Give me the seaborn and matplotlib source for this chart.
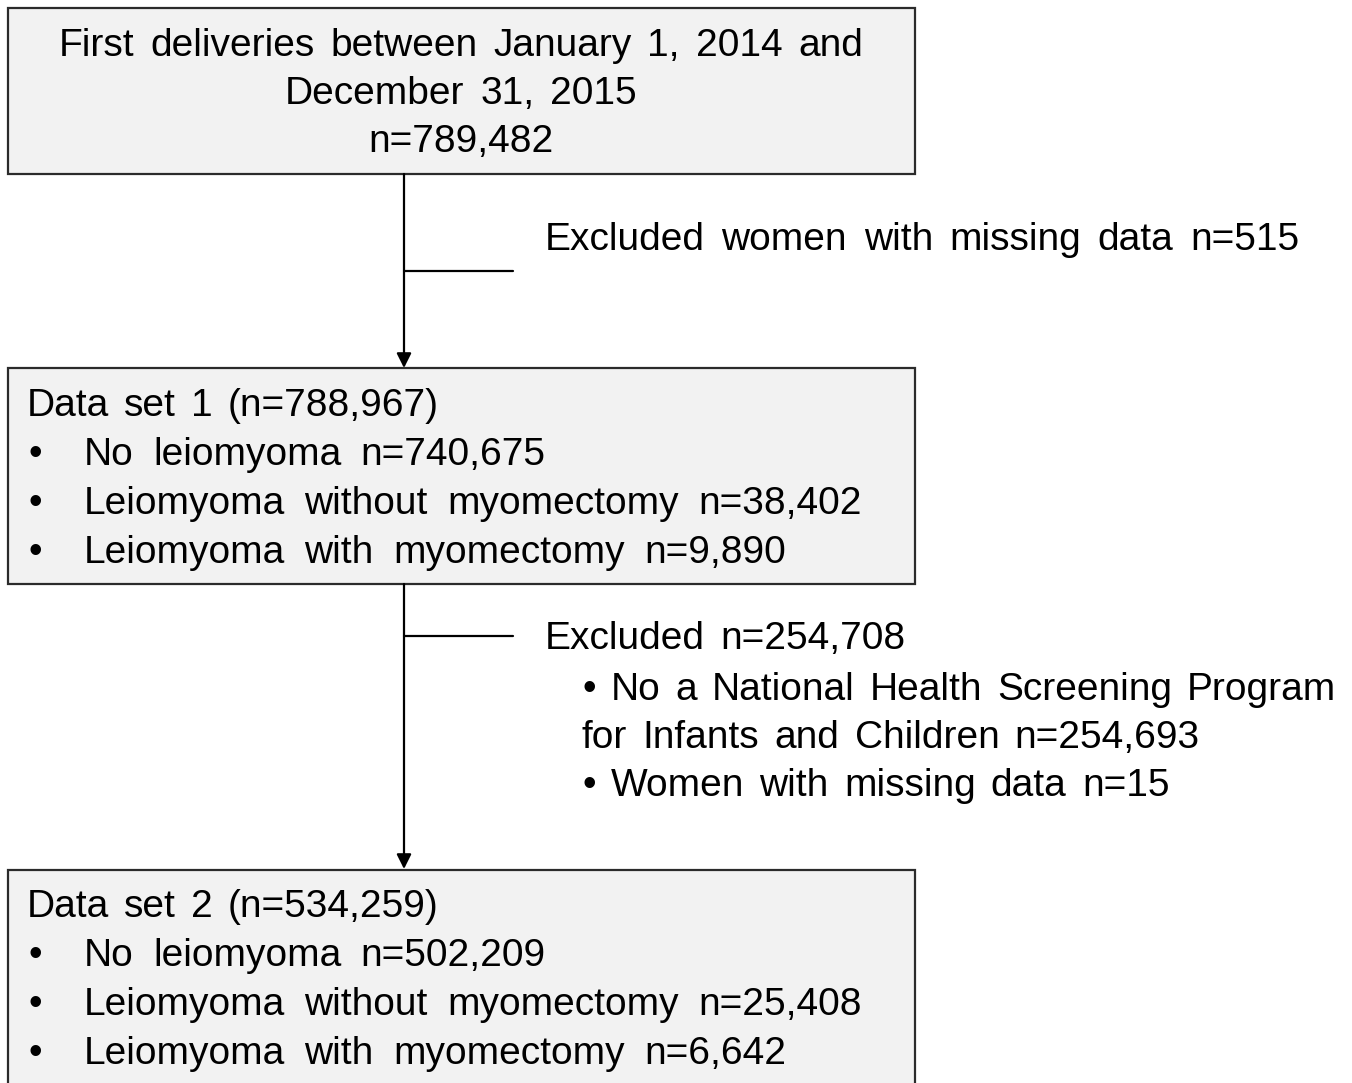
import matplotlib
matplotlib.use("Agg")
import matplotlib.pyplot as plt
from matplotlib.patches import Rectangle
import seaborn as sns

# ---- data ----
total_n = "789,482"
excluded_missing_n = "515"
set1_total = "788,967"
set1_labels = ["No leiomyoma", "Leiomyoma without myomectomy", "Leiomyoma with myomectomy"]
set1_counts = ["740,675", "38,402", "9,890"]
excluded2_total = "254,708"
excluded2_reasons = ["No a National Health Screening Program", "for Infants and Children n=254,693",
                     "Women with missing data n=15"]
set2_total = "534,259"
set2_labels = ["No leiomyoma", "Leiomyoma without myomectomy", "Leiomyoma with myomectomy"]
set2_counts = ["502,209", "25,408", "6,642"]

sns.set_theme(style="white")
plt.rcParams['font.family'] = ['Liberation Sans', 'DejaVu Sans']
plt.rcParams['text.color'] = 'black'

W, H = 1352, 1083
fig = plt.figure(figsize=(W / 100, H / 100), dpi=100)
ax = fig.add_axes([0, 0, 1, 1])
ax.set_xlim(0, W)
ax.set_ylim(H, 0)
ax.axis("off")
fig.canvas.draw()
renderer = fig.canvas.get_renderer()

FS = 28
fill = "#f2f2f2"
edge = "#2b2b2b"
lw = 1.6
DY = 3

def width_px(s):
    t = ax.text(0, 0, s, fontsize=FS)
    w = t.get_window_extent(renderer).width
    t.remove()
    return w

SPACE = width_px("a a") - width_px("aa")

def words(x, y, s, ha="left", extra=5.0):
    ws = s.split(" ")
    widths = [width_px(w) for w in ws]
    total = sum(widths) + (SPACE + extra) * (len(ws) - 1)
    cx = x - total / 2 if ha == "center" else x
    for w, wd in zip(ws, widths):
        ax.text(cx, y + DY, w, ha="left", va="center", fontsize=FS, color="black")
        cx += wd + SPACE + extra

def box(x0, y0, x1, y1):
    ax.add_patch(Rectangle((x0, y0), x1 - x0, y1 - y0, facecolor=fill, edgecolor=edge, lw=lw, zorder=1))

box(8, 8, 915, 174)
box(8, 368, 915, 584)
box(8, 870, 915, 1095)

# Box 1 text
for y, t in zip([43, 91, 139], ["First deliveries between January 1, 2014 and", "December 31, 2015", f"n={total_n}"]):
    words(461, y, t, ha="center")

# arrows
def arrow(x, y0, y1):
    ax.annotate("", xy=(x, y1), xytext=(x, y0),
                arrowprops=dict(arrowstyle="-|>", color="black", lw=lw, mutation_scale=22, shrinkA=0, shrinkB=0))

arrow(404, 174, 368)
ax.plot([404, 513], [271, 271], color="black", lw=lw)
arrow(404, 584, 869)
ax.plot([404, 513], [636, 636], color="black", lw=lw)

words(545, 237, f"Excluded women with missing data n={excluded_missing_n}", extra=5.8)

def dataset(y0, total, labels, counts, idx):
    words(27, y0, f"Data set {idx} (n={total})", extra=4.3)
    for i, (lab, c) in enumerate(zip(labels, counts)):
        y = y0 + 49 * (i + 1)
        ax.text(28, y + DY, "\u2022", ha="left", va="center", fontsize=FS)
        words(84, y, f"{lab} n={c}", extra=8.5)

dataset(403, set1_total, set1_labels, set1_counts, 1)
dataset(904, set2_total, set2_labels, set2_counts, 2)

words(545, 636, f"Excluded n={excluded2_total}", extra=4.5)
words(582, 687, "\u2022 " + excluded2_reasons[0], extra=4.2)
words(582, 735, excluded2_reasons[1], extra=4.5)
words(582, 783, "\u2022 " + excluded2_reasons[2], extra=4.5)

fig.savefig("out.png", dpi=100, facecolor="white")
